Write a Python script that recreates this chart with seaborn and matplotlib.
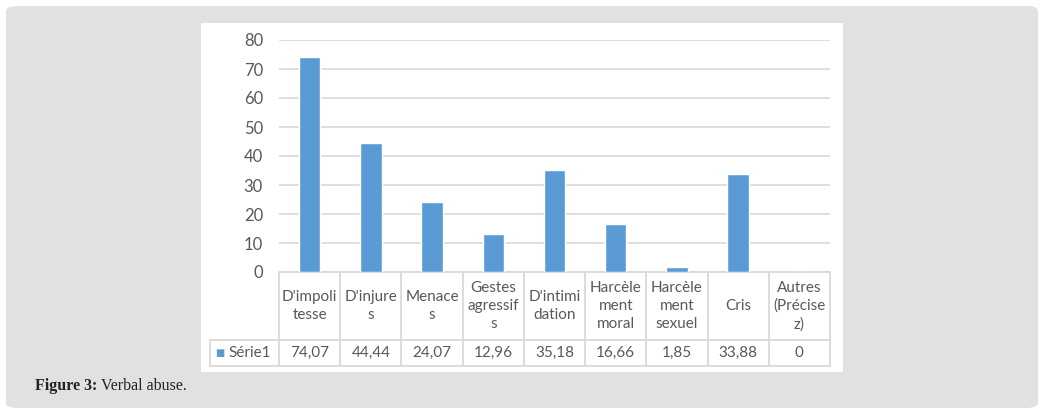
import numpy as np
import pandas as pd
import seaborn as sns
import matplotlib.pyplot as plt
from matplotlib.patches import FancyBboxPatch, Rectangle
from matplotlib.transforms import blended_transform_factory

# data
categories = ["D'impoli\ntesse", "D'injure\ns", "Menace\ns", "Gestes\nagressif\ns",
              "D'intimi\ndation", "Harcèle\nment\nmoral", "Harcèle\nment\nsexuel",
              "Cris", "Autres\n(Précise\nz)"]
values = [74.07, 44.44, 24.07, 12.96, 35.18, 16.66, 1.85, 33.88, 0]
series_name = "Série1"
yticks = [0, 10, 20, 30, 40, 50, 60, 70, 80]

bar_col = '#5b9bd5'
txt_col = '#595959'
line_col = '#d9d9d9'

sns.set_style('white')
plt.rcParams['font.family'] = ['Lato', 'DejaVu Sans']

W, H = 1043, 417
fig = plt.figure(figsize=(W / 100, H / 100), dpi=100)
fig.patch.set_facecolor('white')

# grey page panel and white chart area (pixel coords -> figure coords)
def fx(px):
    return px / W

def fy(py):
    return 1 - py / H

fig.patches.append(FancyBboxPatch((fx(6), fy(408)), fx(1032), (406 - 4) / H,
                                  boxstyle='round,pad=0,rounding_size=0.012',
                                  transform=fig.transFigure, facecolor='#e1e1e1',
                                  edgecolor='none', zorder=0))
fig.patches.append(Rectangle((fx(201), fy(372)), fx(642), 349 / H,
                             transform=fig.transFigure, facecolor='white',
                             edgecolor='none', zorder=1))

ax = fig.add_axes([fx(279), fy(272), fx(551), 232 / H])
ax.set_zorder(5)
ax.set_facecolor('none')
df = pd.DataFrame({'cat': categories, 'val': values})
sns.barplot(data=df, x='cat', y='val', color=bar_col, width=0.35, saturation=1,
            ax=ax, zorder=3)
ax.set_ylim(0, 80)
ax.set_xlim(-0.5, len(categories) - 0.5)
ax.set_yticks(yticks)
ax.set_yticklabels([str(t) for t in yticks], fontsize=12, color=txt_col)
ax.tick_params(axis='y', length=0, pad=11.5)
ax.set_xticks([])
ax.set_xlabel('')
ax.set_ylabel('')
for s in ax.spines.values():
    s.set_visible(False)
ax.yaxis.grid(True, color=line_col, linewidth=1.2, zorder=0)
ax.set_axisbelow(True)

# data table under the axis
tr = blended_transform_factory(ax.transData, ax.transAxes)
px_per_unit = 551 / len(categories)
leg_left = -0.5 - (279 - 210) / px_per_unit
y_head = -68 / 232
y_bot = -94 / 232
n = len(categories)
lkw = dict(color=line_col, linewidth=1.3, transform=tr, clip_on=False)
ax.plot([-0.5, n - 0.5], [0, 0], **lkw)
ax.plot([leg_left, n - 0.5], [y_head, y_head], **lkw)
ax.plot([leg_left, n - 0.5], [y_bot, y_bot], **lkw)
ax.plot([leg_left, leg_left], [y_head, y_bot], **lkw)
for i in range(n + 1):
    ax.plot([i - 0.5, i - 0.5], [0, y_bot], **lkw)

for i, (c, v) in enumerate(zip(categories, values)):
    ax.text(i, y_head / 2, c, transform=tr, ha='center', va='center',
            fontsize=11, color=txt_col, linespacing=1.35)
    ax.text(i, (y_head + y_bot) / 2, f'{v:.2f}'.replace('.', ',') if v else '0',
            transform=tr, ha='center', va='center', fontsize=11, color=txt_col)

ax.text(leg_left + 0.09, (y_head + y_bot) / 2, '■', transform=tr, ha='left',
        va='center', fontsize=7, color=bar_col, family='DejaVu Sans')
ax.text(leg_left + 0.3, (y_head + y_bot) / 2, series_name, transform=tr,
        ha='left', va='center', fontsize=11, color=txt_col)

# caption
t1 = fig.text(fx(35), fy(386), 'Figure 3:', fontsize=11.5, fontweight='bold',
              family='Liberation Serif', color='#222222', va='center')
fig.canvas.draw()
bb = t1.get_window_extent()
fig.text((bb.x1 + 4) / W, fy(386), 'Verbal abuse.', fontsize=11.5,
         family='Liberation Serif', color='#222222', va='center')

fig.savefig('out.png', dpi=100)
